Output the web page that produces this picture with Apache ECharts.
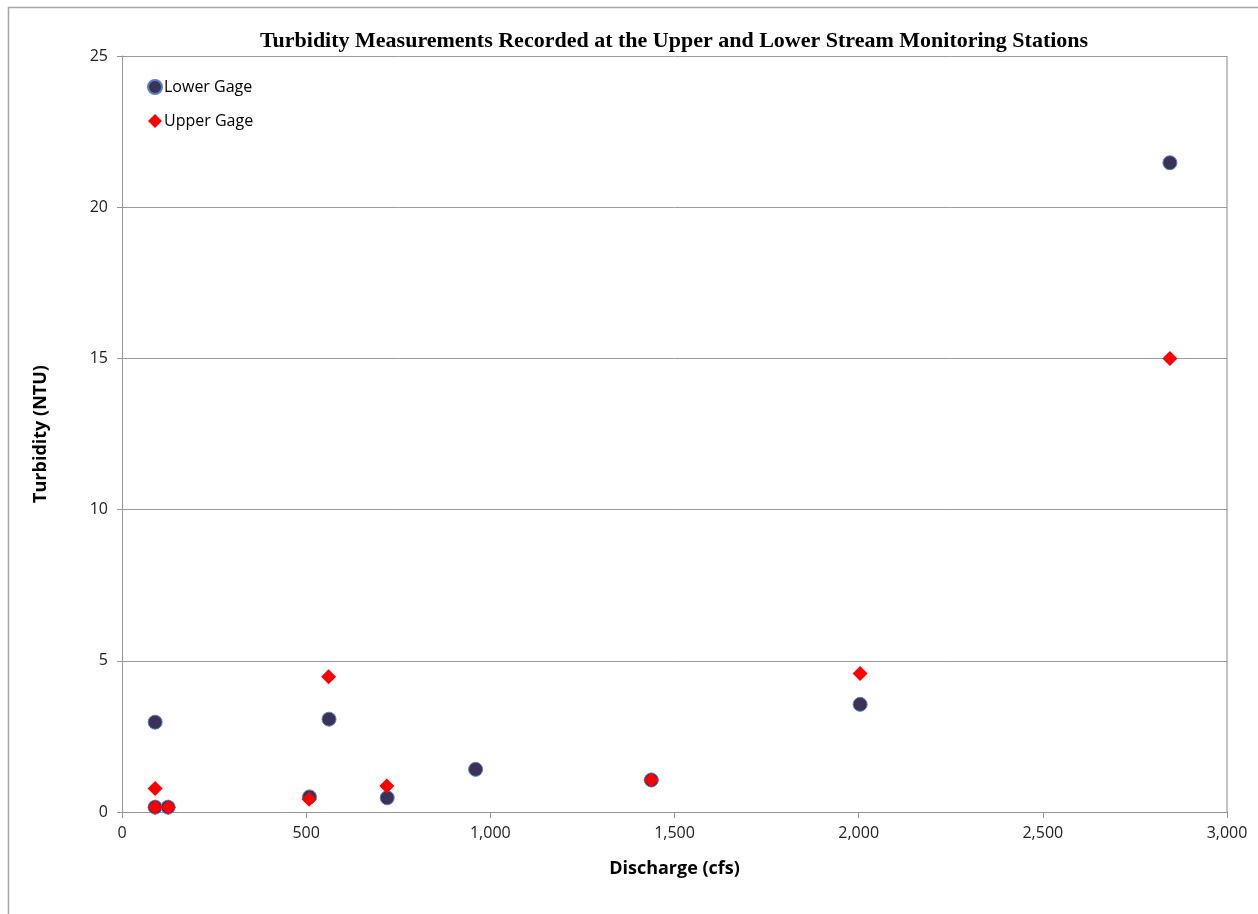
<!DOCTYPE html>
<html>
<head>
<meta charset="utf-8">
<script src="https://cdn.jsdelivr.net/npm/echarts@6/dist/echarts.min.js"></script>
<style>
html,body{margin:0;padding:0;background:#fff;}
#chart{width:1258px;height:914px;}
</style>
</head>
<body>
<div id="chart"></div>
<script>
var chartTitle = 'Turbidity Measurements Recorded at the Upper and Lower Stream Monitoring Stations';
var xAxisName = 'Discharge (cfs)';
var yAxisName = 'Turbidity (NTU)';
var seriesNames = ['Lower Gage', 'Upper Gage'];

var lowerDischarge = [90, 90, 125, 509, 562, 720, 960, 1437, 2004, 2845];
var lowerTurbidity = [2.97, 0.16, 0.16, 0.5, 3.07, 0.47, 1.41, 1.06, 3.56, 21.47];

var upperDischarge = [90, 90, 126, 508, 561, 719, 1437, 2004, 2845];
var upperTurbidity = [0.78, 0.16, 0.16, 0.42, 4.47, 0.86, 1.06, 4.58, 15.0];

function pairs(xs, ys){ return xs.map(function(x,i){ return [x, ys[i]]; }); }

var chart = echarts.init(document.getElementById('chart'));
var labelFont = '"Open Sans", "Noto Sans", sans-serif';
chart.setOption({
  backgroundColor: '#ffffff',
  animation: false,
  graphic: [{
    type: 'rect', silent: true, z: -1,
    shape: {x: 8.5, y: 7.5, width: 1400, height: 1000},
    style: {fill: 'none', stroke: '#a6a6a6', lineWidth: 1.5}
  }, {
    type: 'line', silent: true,
    shape: {x1: 1227, y1: 56, x2: 1227, y2: 812},
    style: {stroke: '#c4c4c4', lineWidth: 2}
  }],
  title: {
    text: chartTitle,
    left: 669,
    textAlign: 'center',
    top: 25,
    textStyle: {fontFamily: '"Liberation Serif", "Times New Roman", serif', fontWeight: 'bold', fontSize: 22, color: '#000'}
  },
  legend: {
    orient: 'vertical',
    left: 142,
    top: 74,
    itemGap: 18,
    itemWidth: 14,
    itemHeight: 14,
    textStyle: {fontFamily: labelFont, fontSize: 16, color: '#000', padding: [0,0,0,-3]},
    data: seriesNames
  },
  grid: {left: 122, top: 56, right: 31, bottom: 102, containLabel: false},
  xAxis: {
    type: 'value',
    min: 0, max: 3000, interval: 500,
    name: xAxisName,
    nameLocation: 'middle',
    nameGap: 48,
    nameTextStyle: {fontFamily: labelFont, fontWeight: 'bold', fontSize: 18, color: '#000'},
    axisLine: {show: true, lineStyle: {color: '#969696', width: 1}},
    axisTick: {show: true, inside: false, length: 6, lineStyle: {color: '#969696'}},
    axisLabel: {fontFamily: labelFont, fontSize: 16, color: '#222', margin: 13,
      formatter: function(v){ return v.toLocaleString('en-US'); }},
    splitLine: {show: false}
  },
  yAxis: {
    type: 'value',
    min: 0, max: 25, interval: 5,
    name: yAxisName,
    nameLocation: 'middle',
    nameGap: 72,
    nameTextStyle: {fontFamily: labelFont, fontWeight: 'bold', fontSize: 18, color: '#000'},
    axisLine: {show: true, lineStyle: {color: '#969696', width: 1}},
    axisTick: {show: true, inside: false, length: 5, lineStyle: {color: '#969696'}},
    axisLabel: {fontFamily: labelFont, fontSize: 16, color: '#222', margin: 14},
    splitLine: {show: true, lineStyle: {color: '#9a9a9a', width: 1}}
  },
  series: [{
    name: seriesNames[0],
    type: 'scatter',
    symbol: 'circle',
    symbolSize: 14,
    itemStyle: {color: '#3a3357', borderColor: '#5a7ec4', borderWidth: 1, opacity: 1},
    data: pairs(lowerDischarge, lowerTurbidity),
    z: 2
  }, {
    name: seriesNames[1],
    type: 'scatter',
    symbol: 'diamond',
    symbolSize: [15, 15],
    itemStyle: {color: '#ff0000', opacity: 1},
    data: pairs(upperDischarge, upperTurbidity),
    z: 3
  }]
});
</script>
</body>
</html>
